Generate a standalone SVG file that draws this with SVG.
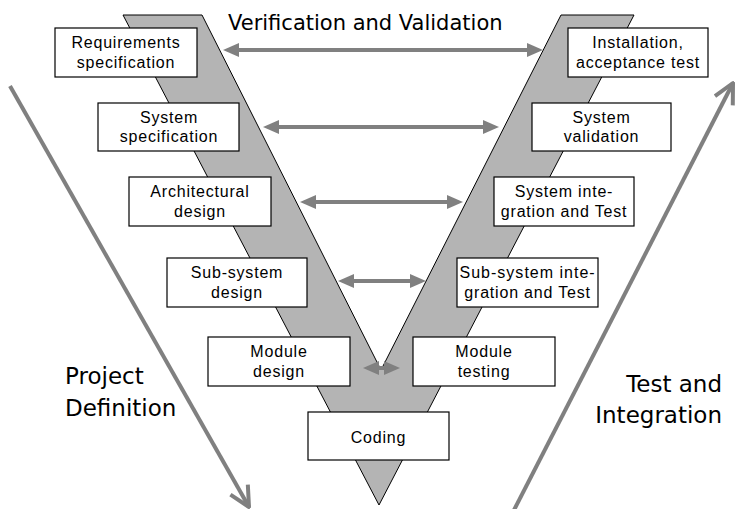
<svg xmlns="http://www.w3.org/2000/svg" width="736" height="509" viewBox="0 0 736 509">
<style>
.box rect{fill:#fff;stroke:#000;stroke-width:1.2}
.box text{font-family:"Liberation Sans",Arial,sans-serif;font-size:16px;letter-spacing:0.8px;text-anchor:middle;fill:#000}
.va{stroke:#808080;stroke-width:4;fill:none}
.big{stroke:#808080;stroke-width:4;fill:none}
.lbl{font-family:"DejaVu Sans",Verdana,sans-serif;fill:#000}
</style>
<defs>
<marker id="ah" viewBox="0 0 16 14" refX="4" refY="7" markerWidth="16" markerHeight="14" markerUnits="userSpaceOnUse" orient="auto-start-reverse">
<path d="M0,0 L16,7 L0,14 Z" fill="#808080"/>
</marker>
<marker id="open" viewBox="-2 -2 24 24" refX="20" refY="10" markerWidth="24" markerHeight="24" markerUnits="userSpaceOnUse" orient="auto">
<path d="M0,0 L20,10 L0,20" fill="none" stroke="#808080" stroke-width="4" stroke-linejoin="round"/>
</marker>
</defs>
<rect width="736" height="509" fill="#fff"/>
<g id="vee">
<polygon points="123,15 202,15 381,370 561,15 634,15 379,505" fill="#b4b4b4" stroke="#000" stroke-width="1"/>
</g>
<g id="connectors">
<line class="va" x1="235" y1="50" x2="531" y2="50" marker-start="url(#ah)" marker-end="url(#ah)"/>
<line class="va" x1="275" y1="127" x2="487" y2="127" marker-start="url(#ah)" marker-end="url(#ah)"/>
<line class="va" x1="312" y1="202" x2="451" y2="202" marker-start="url(#ah)" marker-end="url(#ah)"/>
<line class="va" x1="350" y1="281" x2="414" y2="281" marker-start="url(#ah)" marker-end="url(#ah)"/>
<line class="va" x1="375" y1="368" x2="388" y2="368" marker-start="url(#ah)" marker-end="url(#ah)"/>
<line class="big" x1="10" y1="86" x2="249" y2="507" marker-end="url(#open)"/>
<line class="big" x1="513" y1="512" x2="733" y2="83" marker-end="url(#open)"/>
</g>
<g id="n1" class="box"><rect x="55" y="28" width="142" height="49"/><text x="126" y="48">Requirements</text><text x="126" y="68">specification</text></g>
<g id="n2" class="box"><rect x="98" y="103" width="141" height="48"/><text x="169" y="123">System</text><text x="169" y="142">specification</text></g>
<g id="n3" class="box"><rect x="129" y="177" width="142" height="49"/><text x="200" y="197">Architectural</text><text x="200" y="217">design</text></g>
<g id="n4" class="box"><rect x="167" y="258" width="140" height="49"/><text x="237" y="278">Sub-system</text><text x="237" y="298">design</text></g>
<g id="n5" class="box"><rect x="208" y="337" width="142" height="49"/><text x="279" y="357">Module</text><text x="279" y="377">design</text></g>
<g id="n6" class="box"><rect x="308" y="412" width="141" height="48"/><text x="378.5" y="443">Coding</text></g>
<g id="n7" class="box"><rect x="413" y="337" width="142" height="49"/><text x="484" y="357">Module</text><text x="484" y="377">testing</text></g>
<g id="n8" class="box"><rect x="457" y="258" width="141" height="49"/><text x="527.5" y="278" textLength="136" lengthAdjust="spacing">Sub-system inte-</text><text x="527.5" y="298">gration and Test</text></g>
<g id="n9" class="box"><rect x="494" y="177" width="140" height="49"/><text x="564" y="197">System inte-</text><text x="564" y="217">gration and Test</text></g>
<g id="n10" class="box"><rect x="532" y="103" width="139" height="48"/><text x="601.5" y="123">System</text><text x="601.5" y="142">validation</text></g>
<g id="n11" class="box"><rect x="568" y="28" width="140" height="49"/><text x="638" y="48">Installation,</text><text x="638" y="68">acceptance test</text></g>
<g id="labels">
<text class="lbl" x="228" y="30" font-size="21">Verification and Validation</text>
<text class="lbl" x="65" y="384" font-size="23">Project</text>
<text class="lbl" x="65" y="416" font-size="23">Definition</text>
<text class="lbl" x="722" y="392" font-size="23" text-anchor="end">Test and</text>
<text class="lbl" x="722" y="423" font-size="23" text-anchor="end">Integration</text>
</g>
</svg>
